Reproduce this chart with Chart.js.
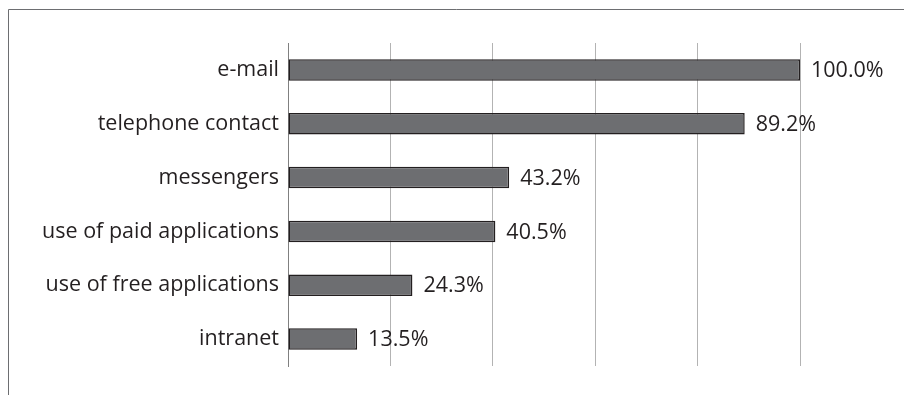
<!DOCTYPE html>
<html>
<head>
<meta charset="utf-8">
<script src="https://cdn.jsdelivr.net/npm/chart.js@4/dist/chart.umd.min.js"></script>
<style>
  html, body { margin: 0; padding: 0; background: #ffffff; }
  #wrap { position: relative; width: 904px; height: 395px; }
</style>
</head>
<body>
<div id="wrap"><canvas id="chart" width="904" height="395"></canvas></div>
<script>
// Communication channels used, share of respondents (%)
const categories = [
  "e-mail",
  "telephone contact",
  "messengers",
  "use of paid applications",
  "use of free applications",
  "intranet"
];
const shares = [100.0, 89.2, 43.2, 40.5, 24.3, 13.5];
const axisTicks = [0, 20, 40, 60, 80, 100];

const FONT = "'Open Sans', 'Noto Sans', sans-serif";
const TEXT = "#231f20";

// Thin frame along the top and left edges of the figure
const framePlugin = {
  id: "frame",
  beforeDraw(chart) {
    const c = chart.ctx;
    c.save();
    c.strokeStyle = "#6d6e71";
    c.lineWidth = 1;
    c.beginPath();
    c.moveTo(8.5, 395);
    c.lineTo(8.5, 9.5);
    c.lineTo(904, 9.5);
    c.stroke();
    c.restore();
  }
};

// Percentage printed just past the end of each bar
const valueLabels = {
  id: "valueLabels",
  afterDatasetsDraw(chart) {
    const c = chart.ctx;
    const meta = chart.getDatasetMeta(0);
    c.save();
    c.font = "21.5px " + FONT;
    c.fillStyle = TEXT;
    c.textAlign = "left";
    c.textBaseline = "middle";
    meta.data.forEach((bar, i) => {
      c.fillText(shares[i].toFixed(1) + "%", bar.x + 11, bar.y + 1);
    });
    c.restore();
  }
};

new Chart(document.getElementById("chart"), {
  type: "bar",
  data: {
    labels: categories,
    datasets: [{
      data: shares,
      backgroundColor: "#6d6e71",
      borderColor: "#231f20",
      borderWidth: 1.5,
      borderSkipped: false,
      barPercentage: 0.8,
      categoryPercentage: 0.5
    }]
  },
  options: {
    indexAxis: "y",
    responsive: false,
    animation: false,
    layout: { padding: { top: 43, right: 104, bottom: 29, left: 0 } },
    plugins: { legend: { display: false }, tooltip: { enabled: false } },
    scales: {
      x: {
        min: 0,
        max: 100,
        afterBuildTicks(scale) { scale.ticks = axisTicks.map(v => ({ value: v })); },
        ticks: { display: false },
        grid: { color: "#b3b3b3", lineWidth: 1, drawTicks: false },
        border: { display: false },
        afterFit(scale) { scale.height = 0; }
      },
      y: {
        ticks: {
          color: TEXT,
          font: { family: FONT, size: 21.5 },
          padding: 9
        },
        grid: { display: false, drawTicks: false },
        border: { display: true, color: "#808080", width: 1 },
        afterFit(scale) { scale.width = 288; }
      }
    }
  },
  plugins: [framePlugin, valueLabels]
});
</script>
</body>
</html>
